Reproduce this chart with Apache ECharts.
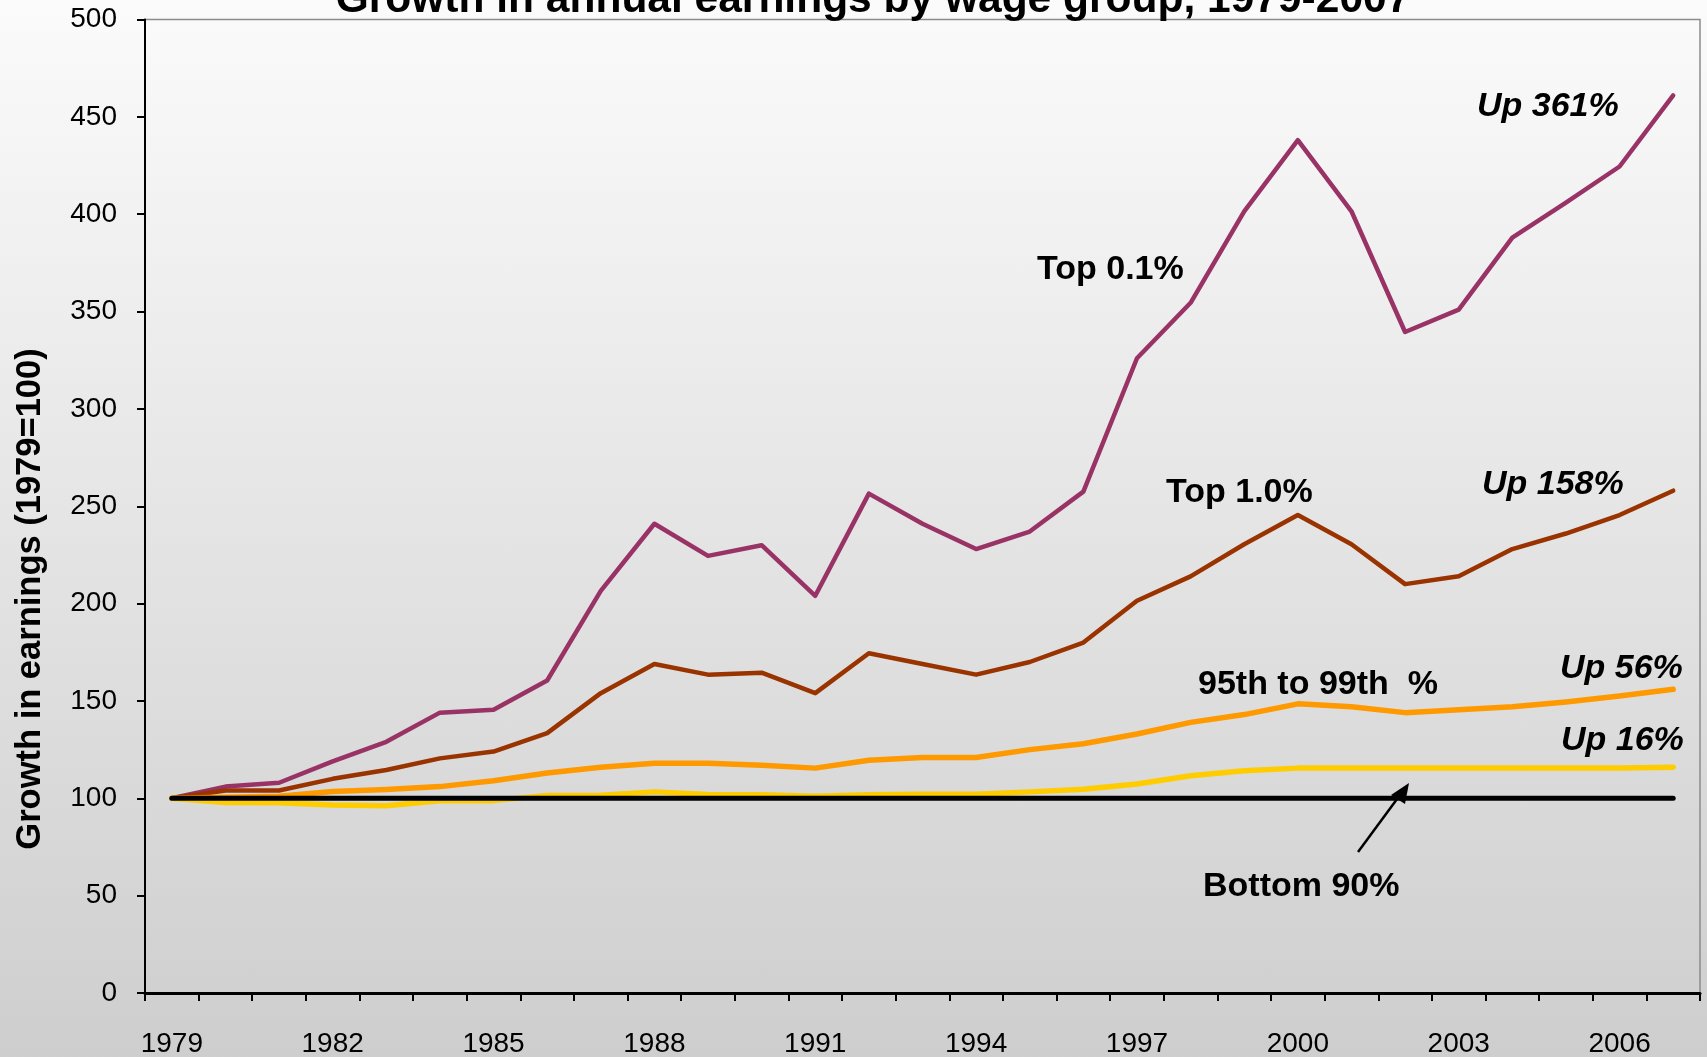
<!DOCTYPE html>
<html>
<head>
<meta charset="utf-8">
<script src="https://cdn.jsdelivr.net/npm/echarts@6/dist/echarts.min.js"></script>
<style>
  html, body { margin: 0; padding: 0; }
  body { background: linear-gradient(to bottom, #fbfbfb 0%, #cecece 100%); }
  #chart { width: 1707px; height: 1057px; }
</style>
</head>
<body>
<div id="chart"></div>
<script>
// Earnings index by wage group, 1979 = 100
const years = ['1979','1980','1981','1982','1983','1984','1985','1986','1987','1988',
  '1989','1990','1991','1992','1993','1994','1995','1996','1997','1998',
  '1999','2000','2001','2002','2003','2004','2005','2006','2007'];

const top01 = [100, 106, 108, 119, 129, 144, 145.5, 160.5, 206.5, 241,
  224.5, 230, 204, 256.5, 241, 228, 237, 257.5, 326, 354.5,
  401.5, 438, 401.5, 339.5, 351, 388, 406, 424.5, 461];

const top1 = [100, 104, 104, 110, 114.5, 120.5, 124, 133.5, 154, 169,
  163.5, 164.5, 154, 174.5, 169, 163.5, 170, 180, 201.5, 214,
  230.5, 245.5, 230.5, 210, 214, 228, 236, 245.5, 258];

const p95to99 = [100, 100.5, 101, 103.5, 104.5, 106, 109, 113, 116, 118,
  118, 117, 115.5, 119.5, 121, 121, 125, 128, 133, 139,
  143, 148.5, 147, 144, 145.5, 147, 149.5, 152.5, 156];

const bottom90 = [100, 97.8, 97.7, 96.5, 96.2, 98.7, 98.8, 101.5, 101.6, 103.3,
  102, 101.8, 101, 101.8, 102.1, 102.1, 103.3, 104.7, 107.3, 111.6,
  114.1, 115.5, 115.5, 115.5, 115.5, 115.5, 115.5, 115.5, 116];

// 1979 reference level
const baseLevel = [100, 100, 100, 100, 100, 100, 100, 100, 100, 100,
  100, 100, 100, 100, 100, 100, 100, 100, 100, 100,
  100, 100, 100, 100, 100, 100, 100, 100, 100];

const yTicks = { min: 0, max: 500, step: 50 };

const FONT = '"Liberation Sans", Arial, Helvetica, sans-serif';

function lineSeries(name, data, color, width) {
  return {
    name: name, type: 'line', data: data,
    symbol: 'none', smooth: false,
    lineStyle: { color: color, width: width, cap: 'round', join: 'round' },
    emphasis: { disabled: true },
    animation: false
  };
}

// bold annotation placed by its text baseline
function note(text, x, baseline, size, italic, align) {
  return {
    type: 'text', x: x, y: baseline - 0.25 * size, z: 100,
    style: {
      text: text, fill: '#000',
      font: (italic ? 'italic ' : '') + 'bold ' + size + 'px ' + FONT,
      textAlign: align || 'left', textVerticalAlign: 'middle'
    }
  };
}

const chart = echarts.init(document.getElementById('chart'), null, { renderer: 'canvas' });

chart.setOption({
  backgroundColor: 'transparent',
  animation: false,
  grid: {
    left: 145, right: 7, top: 19.5, bottom: 64,
    outerBoundsMode: 'none', containLabel: false,
    show: true, borderColor: '#8c8c8c', borderWidth: 1.5,
    backgroundColor: 'transparent'
  },
  xAxis: {
    type: 'category', data: years, boundaryGap: true,
    axisLine: { lineStyle: { color: '#000', width: 3 } },
    axisTick: { show: true, interval: 0, length: 8, lineStyle: { color: '#000', width: 2 } },
    axisLabel: { interval: 2, margin: 37, color: '#000', fontSize: 28, fontFamily: FONT },
    splitLine: { show: false }
  },
  yAxis: {
    type: 'value', min: yTicks.min, max: yTicks.max, interval: yTicks.step,
    axisLine: { show: true, lineStyle: { color: '#000', width: 2 } },
    axisTick: { show: true, length: 8, lineStyle: { color: '#000', width: 2 } },
    axisLabel: { margin: 28, color: '#000', fontSize: 28, fontFamily: FONT },
    splitLine: { show: false }
  },
  series: [
    lineSeries('Top 0.1%', top01, '#993366', 4.5),
    lineSeries('Top 1.0%', top1, '#993300', 4.5),
    lineSeries('95th to 99th %', p95to99, '#FF9900', 5.5),
    lineSeries('Bottom 90%', bottom90, '#FFCC00', 5.5),
    lineSeries('1979 level', baseLevel, '#000000', 5)
  ],
  graphic: [
    {
      type: 'text', x: 873, y: 13 - 0.3 * 42.5, z: 100,
      style: {
        text: 'Growth in annual earnings by wage group, 1979-2007',
        fill: '#000', font: 'bold 42.5px ' + FONT,
        textAlign: 'center', textVerticalAlign: 'middle'
      }
    },
    {
      type: 'text', x: 30, y: 599, rotation: Math.PI / 2, z: 100,
      style: {
        text: 'Growth in earnings (1979=100)',
        fill: '#000', font: 'bold 34.5px ' + FONT,
        textAlign: 'center', textVerticalAlign: 'middle'
      }
    },
    note('Top 0.1%', 1037, 278, 34, false),
    note('Top 1.0%', 1166, 501, 34, false),
    note('95th to 99th  %', 1198, 693, 34, false),
    note('Bottom 90%', 1203, 895, 34, false),
    note('Up 361%', 1477, 115, 34, true),
    note('Up 158%', 1482, 493, 34, true),
    note('Up 56%', 1560, 677, 34, true),
    note('Up 16%', 1561, 749, 34, true),
    {
      type: 'line', z: 100,
      shape: { x1: 1358, y1: 852, x2: 1400, y2: 795 },
      style: { stroke: '#000', lineWidth: 2.5 }
    },
    {
      type: 'polygon', z: 100,
      shape: { points: [[1409, 783], [1391, 795], [1405, 804]] },
      style: { fill: '#000' }
    }
  ]
});
</script>
</body>
</html>
